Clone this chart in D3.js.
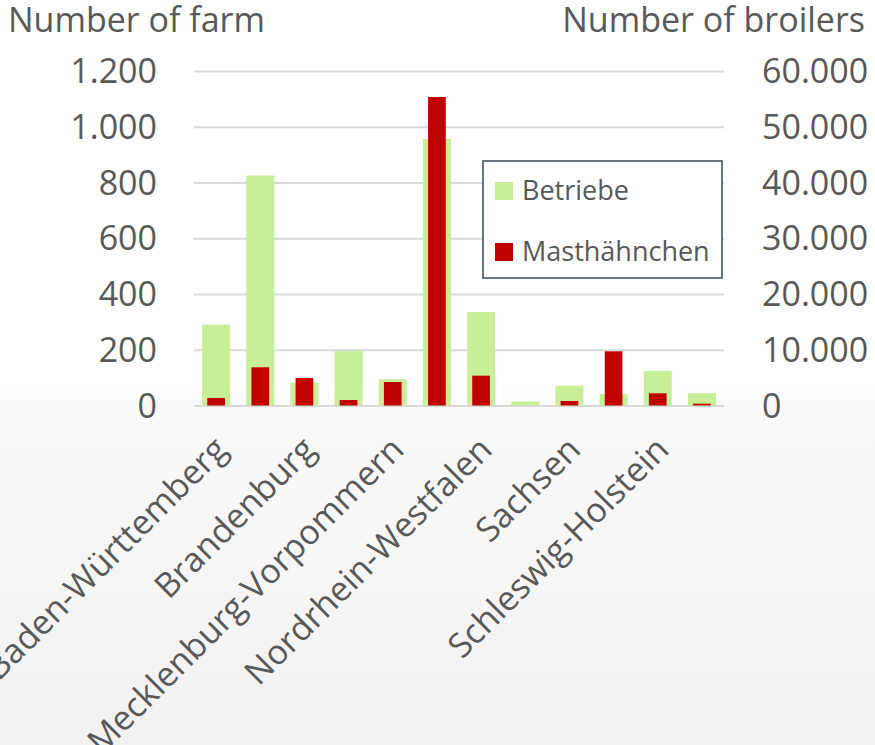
<!DOCTYPE html>
<html>
<head>
<meta charset="utf-8">
<script src="https://cdn.jsdelivr.net/npm/d3@7"></script>
<style>
  body { margin: 0; }
  svg { display: block; font-family: "Open Sans", sans-serif; }
  .grid line { stroke: #d9d9d9; stroke-width: 2; }
  .grid path { display: none; }
  .tick-label { fill: #595959; font-size: 34px; }
</style>
</head>
<body>
<div id="chart"></div>
<script>
var states = ["Baden-Württemberg", "Bayern", "Brandenburg", "Hessen",
              "Mecklenburg-Vorpommern", "Niedersachsen", "Nordrhein-Westfalen",
              "Rheinland-Pfalz", "Sachsen", "Sachsen-Anhalt", "Schleswig-Holstein", "Thüringen"];
var betriebe = [290, 825, 82, 195, 94, 956, 335, 14, 71, 41, 124, 44];
var masthaehnchen = [1350, 6850, 4930, 990, 4215, 55340, 5350, 0, 807, 9720, 2190, 330];
var leftTicks = [0, 200, 400, 600, 800, 1000, 1200];
var rightTicks = [0, 10000, 20000, 30000, 40000, 50000, 60000];
var seriesNames = ["Betriebe", "Masthähnchen"];

var margin = {top: 71, right: 151, bottom: 339.5, left: 194},
    width = 875 - margin.left - margin.right,
    height = 745 - margin.top - margin.bottom;

var de = d3.formatLocale({decimal: ",", thousands: ".", grouping: [3], currency: ["", "€"]});
var fmt = de.format(",d");

var root = d3.select("#chart").append("svg")
    .attr("width", 875)
    .attr("height", 745);

// background: white fading to light grey at the bottom
var grad = root.append("defs").append("linearGradient")
    .attr("id", "bg").attr("x1", 0).attr("y1", 0).attr("x2", 0).attr("y2", 1);
grad.append("stop").attr("offset", "0.52").attr("stop-color", "#ffffff");
grad.append("stop").attr("offset", "0.545").attr("stop-color", "#fafafa");
grad.append("stop").attr("offset", "1").attr("stop-color", "#f1f1f1");
root.append("rect").attr("width", 875).attr("height", 745).attr("fill", "url(#bg)");

var svg = root.append("g")
    .attr("transform", "translate(" + margin.left + "," + margin.top + ")");

var x = d3.scaleBand().domain(states).range([0, width]);
var yL = d3.scaleLinear().domain([0, 1200]).range([height, 0]);
var yR = d3.scaleLinear().domain([0, 60000]).range([height, 0]);

// gridlines
svg.append("g")
    .attr("class", "grid")
    .call(d3.axisLeft(yL).tickValues(leftTicks).tickSize(-width).tickFormat(""));

// left axis labels
svg.append("g").selectAll("text")
    .data(leftTicks)
    .enter().append("text")
    .attr("class", "tick-label")
    .attr("x", -37)
    .attr("y", function(d) { return yL(d); })
    .attr("dy", "0.357em")
    .attr("text-anchor", "end")
    .text(function(d) { return fmt(d); });

// right axis labels
svg.append("g").selectAll("text")
    .data(rightTicks)
    .enter().append("text")
    .attr("class", "tick-label")
    .attr("x", width + 38)
    .attr("y", function(d) { return yR(d); })
    .attr("dy", "0.357em")
    .text(function(d) { return fmt(d); });

// bars
var gw = x.bandwidth() * 0.634,
    rw = x.bandwidth() * 0.4;

svg.append("g").selectAll("rect")
    .data(betriebe)
    .enter().append("rect")
    .attr("x", function(d, i) { return x(states[i]) + (x.bandwidth() - gw) / 2; })
    .attr("y", function(d) { return yL(d); })
    .attr("width", gw)
    .attr("height", function(d) { return height - yL(d); })
    .attr("fill", "#c8ee98");

svg.append("g").selectAll("rect")
    .data(masthaehnchen)
    .enter().append("rect")
    .attr("x", function(d, i) { return x(states[i]) + (x.bandwidth() - rw) / 2; })
    .attr("y", function(d) { return yR(d); })
    .attr("width", rw)
    .attr("height", function(d) { return height - yR(d); })
    .attr("fill", "#c00000");

// category labels (every second one, like Excel auto-skip)
svg.append("g").selectAll("text")
    .data(states.filter(function(d, i) { return i % 2 === 0; }))
    .enter().append("text")
    .attr("class", "tick-label")
    .attr("font-size", "33px")
    .attr("text-anchor", "end")
    .attr("transform", function(d) {
        var cx = x(d) + x.bandwidth() / 2 + 13;
        return "translate(" + cx + "," + (height + 46) + ") rotate(-45)";
    })
    .text(function(d) { return d; });

// axis titles
root.append("text")
    .attr("class", "tick-label")
    .attr("x", 8).attr("y", 32)
    .text("Number of farm");

root.append("text")
    .attr("class", "tick-label")
    .attr("x", 865).attr("y", 32)
    .attr("text-anchor", "end")
    .text("Number of broilers");

// legend
var legend = root.append("g").attr("transform", "translate(483,161)");
legend.append("rect")
    .attr("width", 239).attr("height", 117)
    .attr("fill", "#ffffff")
    .attr("stroke", "#3b4a55")
    .attr("stroke-width", 1.5);

var legendColors = ["#c8ee98", "#c00000"];
seriesNames.forEach(function(name, i) {
    legend.append("rect")
        .attr("x", 12).attr("y", 21 + i * 61)
        .attr("width", 18).attr("height", 18)
        .attr("fill", legendColors[i]);
    legend.append("text")
        .attr("x", 39).attr("y", 39 + i * 61)
        .attr("fill", "#595959")
        .attr("font-size", "27px")
        .text(name);
});
</script>
</body>
</html>
